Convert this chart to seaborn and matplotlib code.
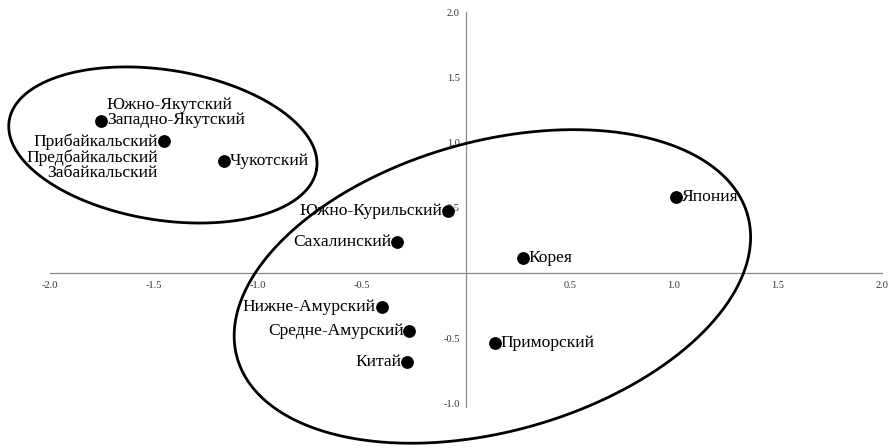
import numpy as np
import pandas as pd
import matplotlib
matplotlib.use("Agg")
import matplotlib.pyplot as plt
import seaborn as sns

# ---- data ----
labels = [
    "Южно-Якутский\nЗападно-Якутский",
    "Прибайкальский\nПредбайкальский\nЗабайкальский",
    "Чукотский",
    "Южно-Курильский",
    "Сахалинский",
    "Корея",
    "Япония",
    "Нижне-Амурский",
    "Средне-Амурский",
    "Китай",
    "Приморский",
]
x_vals = [-1.755, -1.452, -1.165, -0.085, -0.330, 0.272, 1.010, -0.405, -0.272, -0.282, 0.138]
y_vals = [1.167, 1.011, 0.862, 0.476, 0.236, 0.118, 0.584, -0.260, -0.443, -0.685, -0.535]
x_ticks = [-2.0, -1.5, -1.0, -0.5, 0.5, 1.0, 1.5, 2.0]
y_ticks = [-1.0, -0.5, 0.5, 1.0, 1.5, 2.0]

# label placement (style): side, dy px
label_side = ["left", "right", "left", "right", "right", "left", "left", "right", "right", "right", "left"]
label_dy = [8.5, -16, 0, 0, 0, 0, 0, 0, 0, 0, 0]

# cluster ellipses: center (data), semi-axes (in x-data units), angle (deg, screen)
ell_cx = [-1.457, 0.127]
ell_cy = [0.981, -0.103]
ell_a = [0.748, 1.274]
ell_b = [0.361, 0.697]
ell_ang = [-9.0, 15.6]

df = pd.DataFrame({"x": x_vals, "y": y_vals, "label": labels})

sns.set_style("white")
plt.rcParams["font.family"] = ["Liberation Serif", "DejaVu Serif"]

fig = plt.figure(figsize=(8.92, 4.48), dpi=100)
ax = fig.add_axes([0, 0, 1, 1])
ax.set_xlim(-2.240, 2.048)
ax.set_ylim(-1.341, 2.092)

sns.scatterplot(data=df, x="x", y="y", color="black", s=85, linewidth=0,
                ax=ax, legend=False, zorder=5)
ax.set_xlabel("")
ax.set_ylabel("")

for s in ["top", "right"]:
    ax.spines[s].set_visible(False)
ax.spines["left"].set_position(("data", 0))
ax.spines["bottom"].set_position(("data", 0))
ax.spines["bottom"].set_bounds(-2, 2)
ax.spines["left"].set_bounds(-1.03, 2)
for s in ["left", "bottom"]:
    ax.spines[s].set_color("#8a8a8a")
    ax.spines[s].set_linewidth(0.9)

ax.set_xticks(x_ticks)
ax.set_yticks(y_ticks)
ax.set_xticklabels([f"{v:.1f}" for v in x_ticks])
ax.set_yticklabels([f"{v:.1f}" for v in y_ticks])
ax.tick_params(axis="both", direction="out", length=3, width=0.8, color="#8a8a8a",
               labelsize=7.5, labelcolor="#333333")
ax.tick_params(axis="x", pad=3)
ax.tick_params(axis="y", pad=1.5)

for i, row in df.iterrows():
    side = label_side[i]
    dx = 6 if side == "left" else -6
    ha = "left" if side == "left" else "right"
    ax.annotate(row["label"], (row["x"], row["y"]), xytext=(dx, label_dy[i]),
                textcoords="offset pixels", ha=ha, va="center", fontsize=12.6,
                linespacing=0.93, multialignment=ha, color="black", zorder=6)

fig.canvas.draw()
t = np.linspace(0, 2 * np.pi, 500)
p0 = ax.transData.transform((0, 0))
p1 = ax.transData.transform((1, 0))
sx = p1[0] - p0[0]
for cx, cy, a, b, ang in zip(ell_cx, ell_cy, ell_a, ell_b, ell_ang):
    cxd, cyd = ax.transData.transform((cx, cy))
    A, B = a * sx, b * sx
    th = np.deg2rad(ang)
    X = cxd + A * np.cos(t) * np.cos(th) - B * np.sin(t) * np.sin(th)
    Y = cyd + A * np.cos(t) * np.sin(th) + B * np.sin(t) * np.cos(th)
    pts = ax.transData.inverted().transform(np.column_stack([X, Y]))
    ax.plot(pts[:, 0], pts[:, 1], color="black", lw=2.0, zorder=4)

fig.savefig("out.png", dpi=100)
